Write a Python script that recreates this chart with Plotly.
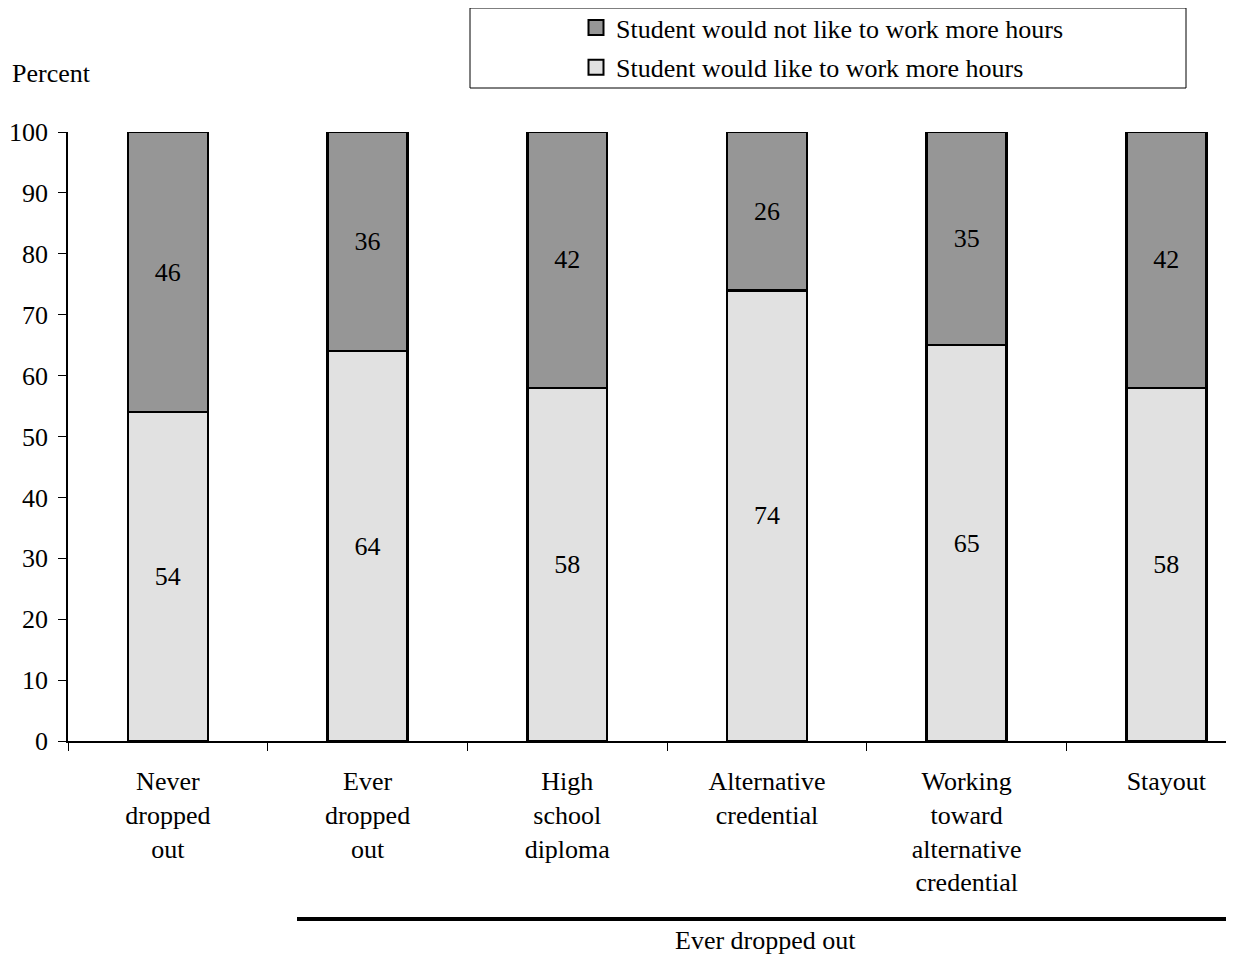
import plotly.graph_objects as go

categories = ["Never<br>dropped<br>out", "Ever<br>dropped<br>out", "High<br>school<br>diploma",
              "Alternative<br>credential", "Working<br>toward<br>alternative<br>credential", "Stayout"]
would_like = [54, 64, 58, 74, 65, 58]
would_not_like = [46, 36, 42, 26, 35, 42]
y_ticks = [0, 10, 20, 30, 40, 50, 60, 70, 80, 90, 100]
series_names = ["Student would like to work more hours", "Student would not like to work more hours"]
series_colors = ["#e1e1e1", "#969696"]

W, H = 1234, 954
OFF = 8  # page body margin
L, T = 68 - OFF, 132 - OFF
R = W - (1234 - OFF)
BOT = 741 - OFF
B = H - BOT
FONT = "Times New Roman, Liberation Serif, serif"
FS = 26

plot_w = W - L - R
plot_h = BOT - T


def px(x):
    return (x - OFF - L) / plot_w


def py(y):
    return (BOT - (y - OFF)) / plot_h


xs = list(range(len(categories)))

fig = go.Figure()
for vals, name, col in zip([would_like, would_not_like], series_names, series_colors):
    fig.add_trace(go.Bar(
        x=xs, y=vals, name=name, showlegend=False,
        marker=dict(color=col, line=dict(color="black", width=2.5)),
        width=0.4, text=[str(v) for v in vals], textposition="inside",
        insidetextanchor="middle", textfont=dict(family=FONT, size=FS, color="black"),
        xaxis="x", yaxis="y",
    ))

# legend entries (square swatches like the reference)
for rank, (name, col) in zip([2, 1], zip(series_names, series_colors)):
    fig.add_trace(go.Scatter(
        x=[None], y=[None], mode="markers", name=name, legendrank=rank,
        legendgroup=name,
        marker=dict(symbol="square", size=15, color=col, line=dict(color="black", width=2)),
    ))

# invisible trace to activate the category label axis
fig.add_trace(go.Scatter(x=xs, y=[0] * len(xs), xaxis="x2", yaxis="y", mode="markers",
                         marker=dict(opacity=0), showlegend=False, hoverinfo="skip"))

x_end = -0.5 + plot_w / 199.7
bounds = [i - 0.5 for i in range(len(categories))]

fig.update_layout(
    width=W, height=H,
    margin=dict(l=L, r=R, t=T, b=B, pad=0, autoexpand=False),
    paper_bgcolor="white", plot_bgcolor="white",
    barmode="stack", bargap=0.6,
    font=dict(family=FONT, size=FS, color="black"),
    xaxis=dict(range=[-0.5, x_end], tickvals=bounds, ticktext=[""] * len(bounds),
               ticks="outside", ticklen=8, tickwidth=1, tickcolor="black", automargin=False,
               showline=True, linecolor="black", linewidth=1.5, showgrid=False, zeroline=False),
    xaxis2=dict(range=[-0.5, x_end], overlaying="x", matches="x", tickvals=xs, ticktext=categories,
                ticks="", showline=False, showgrid=False, zeroline=False, side="bottom",
                ticklabelstandoff=22, automargin=False,
                tickfont=dict(family=FONT, size=FS, color="black")),
    yaxis=dict(range=[0, 100], tickvals=y_ticks, ticks="outside", ticklen=8, tickwidth=1,
               tickcolor="black", showline=True, linecolor="black", linewidth=1.5,
               ticklabelstandoff=5, automargin=False,
               showgrid=False, zeroline=False, tickfont=dict(family=FONT, size=FS, color="black")),
    legend=dict(x=px(576), y=py(4), xanchor="left", yanchor="top",
                traceorder="grouped", bgcolor="rgba(0,0,0,0)", borderwidth=0,
                itemsizing="trace",
                font=dict(family=FONT, size=FS, color="black"), tracegroupgap=3),
    showlegend=True,
)

# legend frame
fig.add_shape(type="rect", xref="paper", yref="paper",
              x0=px(470), x1=px(1186), y0=py(88), y1=py(8),
              line=dict(color="black", width=1), fillcolor="rgba(0,0,0,0)")
# group bracket line
fig.add_shape(type="line", xref="paper", yref="paper",
              x0=px(297), x1=px(1232), y0=py(919), y1=py(919),
              line=dict(color="black", width=4))
fig.add_annotation(text="Ever dropped out", xref="paper", yref="paper",
                   x=px(765), y=py(940), showarrow=False,
                   xanchor="center", yanchor="middle", font=dict(family=FONT, size=FS))
fig.add_annotation(text="Percent", xref="paper", yref="paper",
                   x=px(10), y=py(73), showarrow=False,
                   xanchor="left", yanchor="middle", font=dict(family=FONT, size=FS))

fig.write_html("out.html")
